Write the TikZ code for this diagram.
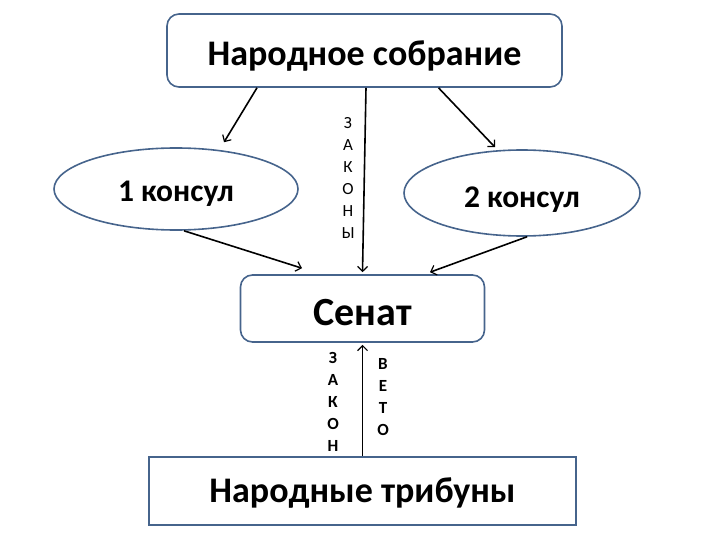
\documentclass[tikz,border=0pt]{standalone}
\usepackage{fontspec}
\setmainfont{Carlito}
\usetikzlibrary{shapes.geometric,arrows.meta}
\definecolor{bordc}{RGB}{70,100,140}
\tikzset{
  boxst/.style={draw=bordc,line width=1.6pt,inner sep=0pt,text depth=0pt,text height=23pt,font=\bfseries\fontsize{36}{42}\selectfont},
  ell/.style={boxst,ellipse,text height=20pt,font=\bfseries\fontsize{31.5}{36}\selectfont},
  conn/.style={black,line width=1.6pt,-{Straight Barb[length=5pt,width=10pt,line width=1.2pt]}},
  vlab/.style={align=center,inner sep=0pt,font=\fontsize{17}{22}\selectfont},
  vlabb/.style={vlab,font=\bfseries\fontsize{17}{22}\selectfont}
}
\begin{document}
\begin{tikzpicture}[x=1pt,y=-1pt]
\useasboundingbox (0,0) rectangle (720,540);
\node[boxst,rounded corners=12pt,minimum width=395pt,minimum height=73pt,text height=30pt] (top) at (364.5,50.5) {Народное собрание};
\node[ell,minimum width=244pt,minimum height=82pt,text height=25pt] (c1) at (176,189) {1 консул};
\node[ell,minimum width=236pt,minimum height=86pt,text height=29pt] (c2) at (522,193) {2 консул};
\node[boxst,rounded corners=12pt,minimum width=244pt,minimum height=67pt,text height=33pt,font=\bfseries\fontsize{40}{46}\selectfont] (sen) at (362.5,308.5) {Сенат};
\node[boxst,minimum width=427pt,minimum height=68pt] (trib) at (362.5,491) {Народные трибуны};
\draw[conn] ([xshift=-107.5pt]top.south) -- ([xshift=48pt,yshift=5pt]c1.north);
\draw[conn] ([xshift=74pt]top.south) -- ([xshift=-27pt,yshift=2pt]c2.north);
\draw[conn] ([xshift=1.5pt]top.south) -- ([yshift=2pt]sen.north);
\draw[conn] ([xshift=8pt]c1.south) -- ([xshift=-60.5pt,yshift=6pt]sen.north);
\draw[conn] ([xshift=5pt]c2.south) -- ([xshift=67.5pt,yshift=2pt]sen.north);
\draw[conn] (trib.north) -- ([yshift=-2pt]sen.south);
\node[vlab] (l1) at (348,177.5) {З\\А\\К\\О\\Н\\Ы};
\node[vlabb] (l2) at (333,402) {З\\А\\К\\О\\Н};
\node[vlabb] (l3) at (383,397.5) {В\\Е\\Т\\О};
\end{tikzpicture}
\end{document}
